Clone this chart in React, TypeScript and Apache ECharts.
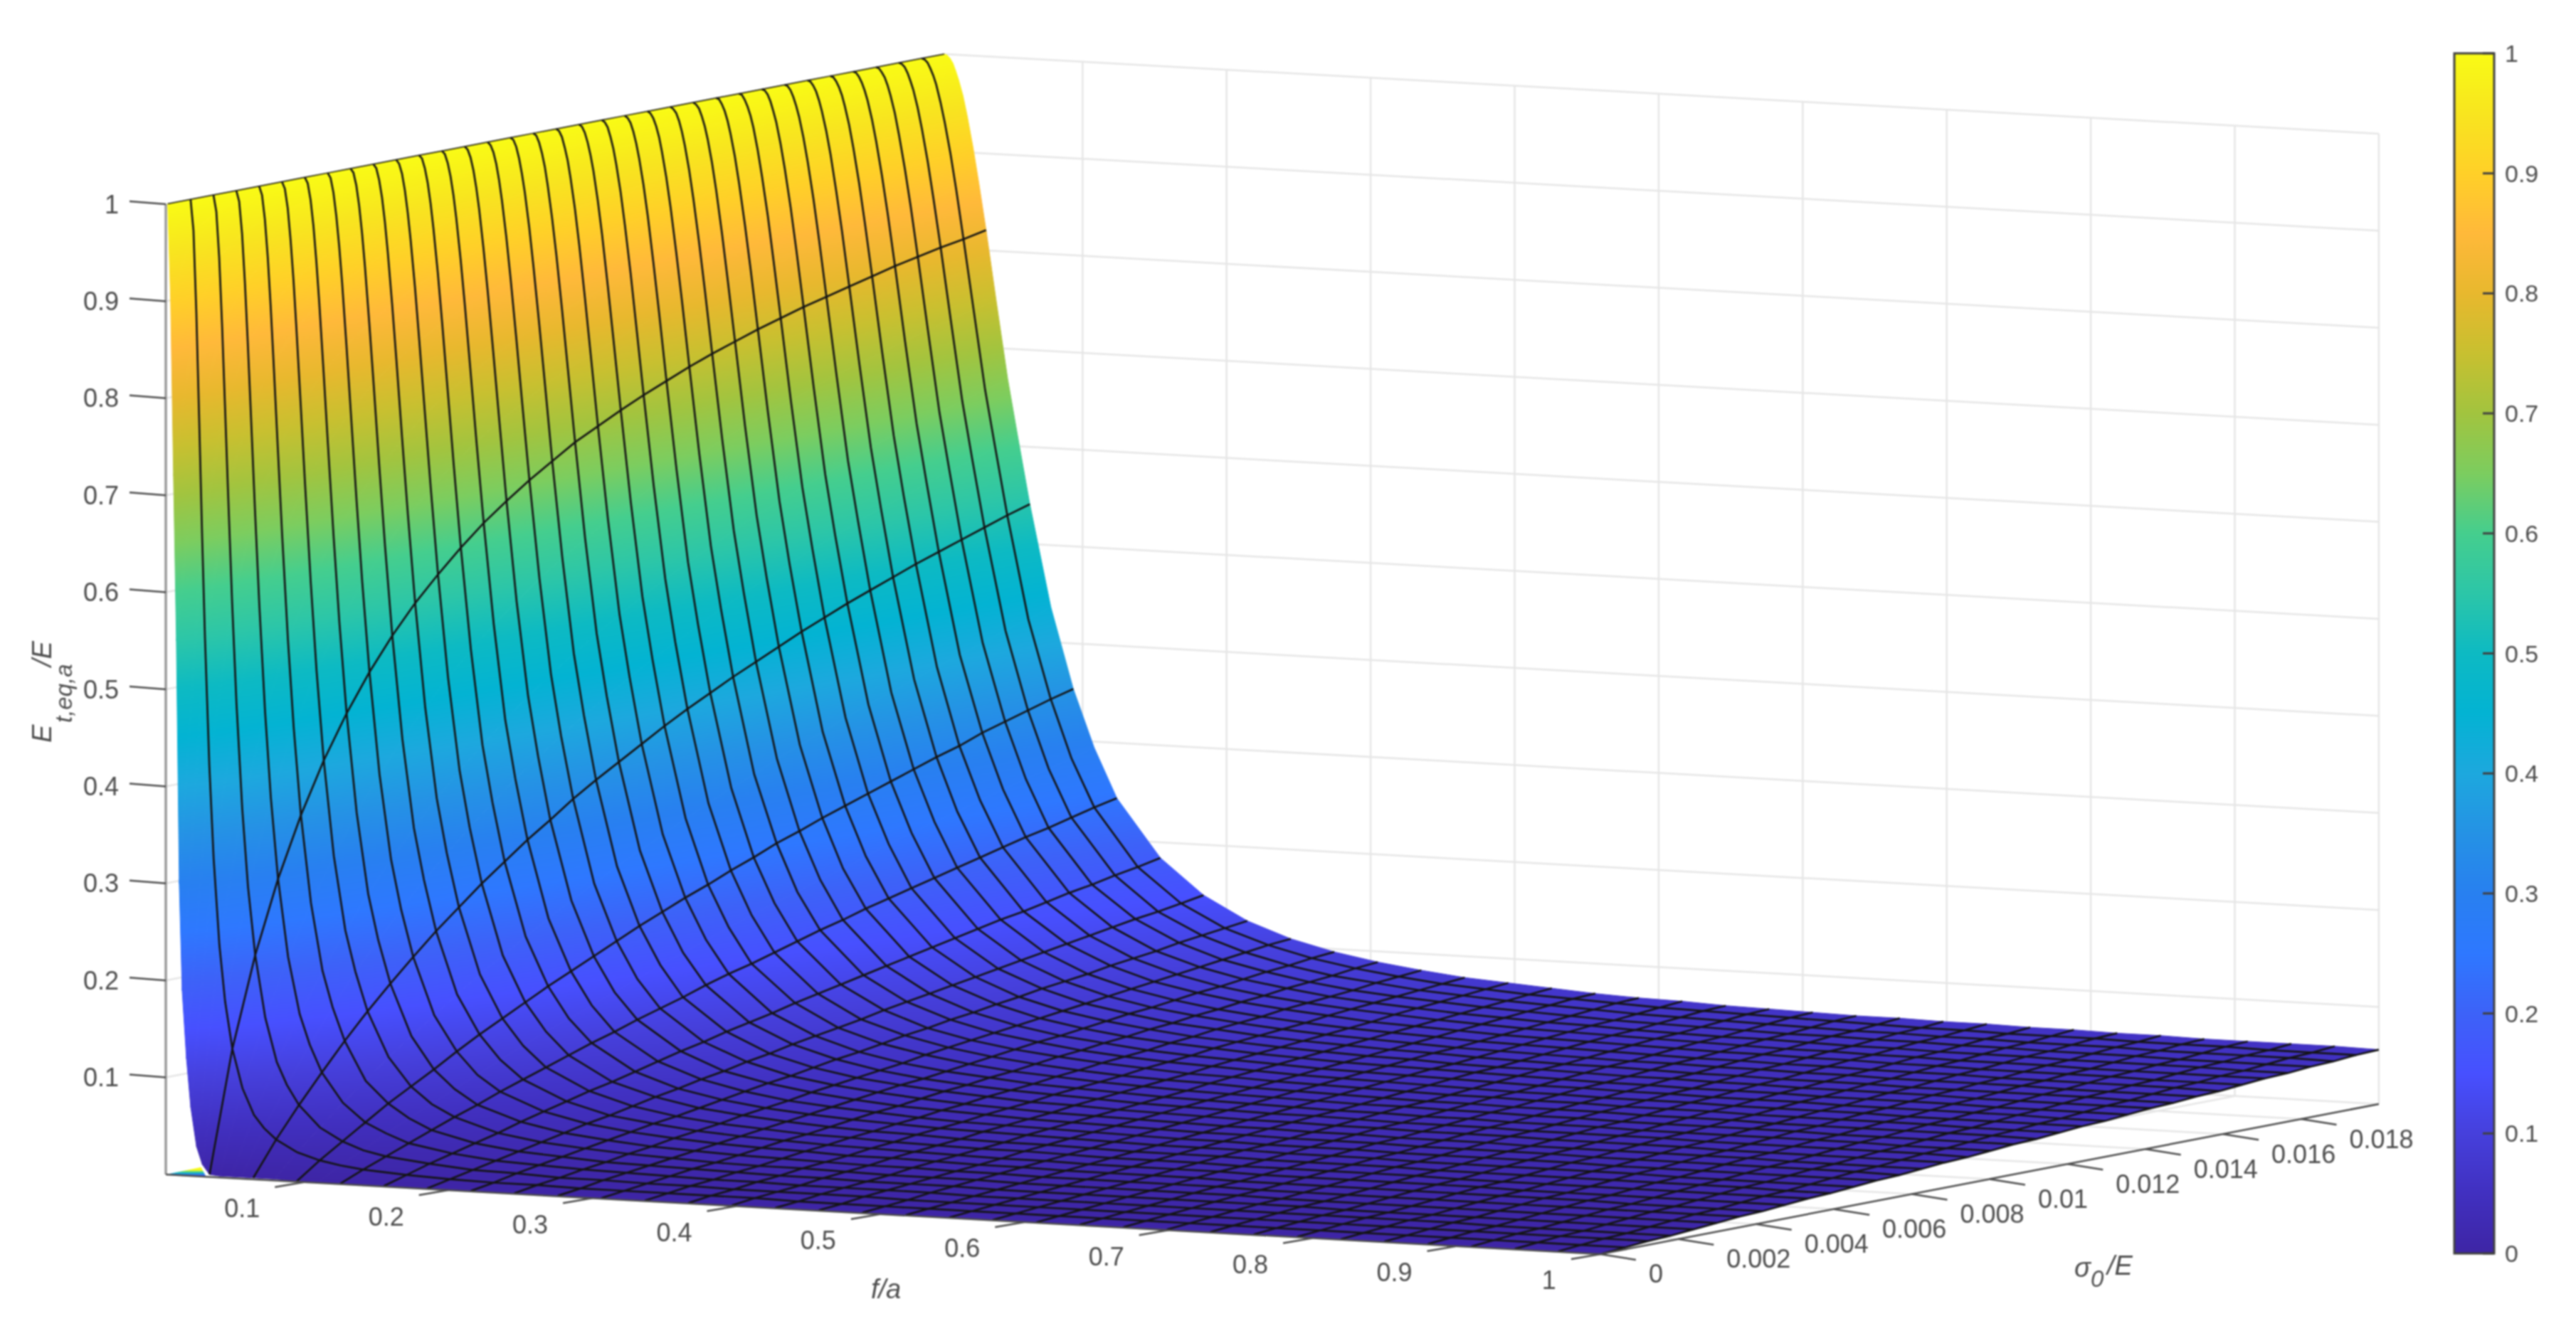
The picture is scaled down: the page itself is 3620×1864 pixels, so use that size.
import * as echarts from "echarts";
import { useEffect, useRef } from "react";

const W = 3620;
const H = 1864;

// f/a at the surface's vertices; the mesh lines use the meshCols entries, the rest only smooth the steep part
const fValues = [0.004,0.006,0.008,0.010,0.012,0.014,0.017,0.020,0.024,0.028,0.033,0.040,0.048,0.055,0.0634,0.078,0.0936,0.108,0.1238,0.154,0.184,0.2144,0.2446,0.2748,0.305,0.3352,0.3654,0.3956,0.4258,0.456,0.4862,0.5164,0.5466,0.5768,0.607,0.6372,0.6674,0.6976,0.7278,0.758,0.7882,0.8184,0.8486,0.8788,0.909,0.9392,0.9694,1.0];
const sigmaValues = [0.00005,0.000637,0.001224,0.001811,0.002398,0.002985,0.003572,0.004159,0.004746,0.005333,0.00592,0.006507,0.007094,0.007681,0.008268,0.008855,0.009442,0.010029,0.010616,0.011203,0.01179,0.012377,0.012964,0.013551,0.014138,0.014725,0.015312,0.015899,0.016486,0.017073,0.01766,0.018247,0.018834,0.019421,0.02];
const meshCols = [0,10,14,16,18,19,20,21,22,23,24,25,26,27,28,29,30,31,32,33,34,35,36,37,38,39,40,41,42,43,44,45,46,47];

// E_t,eq,a/E in thousandths, one row per sigma0/E, one column per f/a.
// Estimated: the first row is read off the left edge, the others come from a curve fitted to edge and mesh readings.
const zTable = [
  [1000,900,720,550,300,190,120,70,30,12,2,1,1,1,1,1,0,0,0,0,0,0,0,0,0,0,0,0,0,0,0,0,0,0,0,0,0,0,0,0,0,0,0,0,0,0,0,0],
  [1000,968,883,771,654,548,418,322,233,175,127,87,60,47,36,24,17,13,10,7,5,4,4,3,3,3,3,3,2,2,2,2,2,2,2,2,2,2,2,2,2,2,2,2,2,2,2,2],
  [1000,983,936,866,784,700,580,477,369,289,219,155,110,87,67,45,32,24,19,14,10,9,7,7,6,6,5,5,5,5,4,4,4,4,4,4,4,4,4,4,4,4,4,4,4,4,4,4],
  [1000,989,956,905,843,775,671,574,464,376,293,213,155,124,96,66,47,37,28,20,15,13,11,10,9,8,8,7,7,7,7,6,6,6,6,6,6,6,6,6,6,6,6,5,5,5,5,5],
  [1000,991,966,927,877,820,730,641,534,444,354,264,195,158,124,84,62,48,37,26,20,17,14,13,12,11,10,10,9,9,9,8,8,8,8,8,8,8,8,7,7,7,7,7,7,7,7,7],
  [1000,993,973,940,899,850,771,690,588,498,406,308,232,190,150,104,75,58,46,32,25,21,18,16,14,13,13,12,11,11,11,10,10,10,10,10,10,9,9,9,9,9,9,9,9,9,9,9],
  [1000,994,977,950,914,872,801,727,631,543,450,348,265,218,174,121,88,69,54,39,30,25,21,19,17,16,15,14,14,13,13,12,12,12,12,12,11,11,11,11,11,11,11,11,11,11,11,11],
  [1000,995,980,956,925,888,824,756,665,580,488,383,296,245,197,138,102,79,63,45,35,29,25,22,20,19,17,17,16,15,15,14,14,14,14,13,13,13,13,13,13,13,13,13,12,12,12,12],
  [1000,996,983,962,934,900,842,780,694,612,521,415,324,271,219,155,115,90,71,51,39,33,28,25,23,21,20,19,18,17,17,16,16,16,16,15,15,15,15,15,15,14,14,14,14,14,14,14],
  [1000,996,984,966,941,910,857,799,718,640,550,443,350,294,239,171,127,100,79,57,44,36,31,28,25,24,22,21,20,20,19,18,18,18,17,17,17,17,17,16,16,16,16,16,16,16,16,16],
  [1000,996,986,969,946,918,870,815,739,663,575,469,374,316,259,186,139,110,87,62,49,40,35,31,28,26,25,23,22,22,21,20,20,20,19,19,19,19,18,18,18,18,18,18,18,18,17,17],
  [1000,997,987,972,951,925,880,829,757,684,598,493,396,337,277,201,151,119,95,68,53,44,38,34,31,29,27,26,25,24,23,22,22,22,21,21,21,20,20,20,20,20,20,19,19,19,19,19],
  [1000,997,988,974,955,931,889,841,772,702,619,515,417,357,295,215,162,128,102,74,58,48,41,37,34,31,29,28,27,26,25,24,24,23,23,23,22,22,22,22,22,21,21,21,21,21,21,21],
  [1000,997,989,976,958,936,896,851,786,719,637,534,437,375,311,229,173,137,110,80,62,52,45,40,36,34,32,30,29,28,27,26,26,25,25,25,24,24,24,24,23,23,23,23,23,23,23,22],
  [1000,997,990,978,961,940,903,860,798,733,654,553,455,392,328,242,184,146,117,85,67,55,48,43,39,36,34,32,31,30,29,28,28,27,27,26,26,26,25,25,25,25,25,25,24,24,24,24],
  [1000,998,991,979,963,944,909,868,809,747,669,570,472,409,343,255,195,156,124,91,71,59,51,46,42,39,36,35,33,32,31,30,30,29,29,28,28,28,27,27,27,27,26,26,26,26,26,26],
  [1000,998,991,980,966,947,914,876,819,759,684,585,488,424,357,267,205,164,132,96,76,63,54,48,44,41,39,37,35,34,33,32,32,31,30,30,30,29,29,29,29,28,28,28,28,28,28,27],
  [1000,998,992,981,968,950,919,882,827,769,696,600,503,439,371,279,215,173,139,101,80,66,57,51,47,43,41,39,37,36,35,34,33,33,32,32,31,31,31,30,30,30,30,30,30,29,29,29],
  [1000,998,992,982,969,953,923,888,835,779,708,613,517,453,385,291,224,181,145,107,84,70,61,54,49,46,43,41,39,38,37,36,35,35,34,34,33,33,32,32,32,32,32,31,31,31,31,31],
  [1000,998,993,983,971,955,927,893,843,788,719,626,531,466,398,302,234,189,152,112,88,74,64,57,52,48,45,43,42,40,39,38,37,36,36,35,35,35,34,34,34,33,33,33,33,33,33,32],
  [1000,998,993,984,972,957,930,898,849,797,729,638,543,479,410,313,243,197,159,117,93,77,67,60,55,51,48,45,44,42,41,40,39,38,38,37,37,36,36,36,35,35,35,35,35,34,34,34],
  [1000,998,993,985,974,959,933,902,855,805,739,649,555,491,422,323,253,204,166,122,97,81,70,63,57,53,50,48,46,44,43,42,41,40,39,39,38,38,38,37,37,37,37,36,36,36,36,36],
  [1000,998,994,986,975,961,936,906,861,812,748,660,567,503,433,334,261,212,172,127,101,84,73,65,60,55,52,50,48,46,45,44,43,42,41,41,40,40,39,39,39,38,38,38,38,38,37,37],
  [1000,998,994,986,976,963,939,910,866,818,756,669,578,514,444,344,270,219,179,132,105,88,76,68,62,58,55,52,50,48,47,46,45,44,43,42,42,41,41,41,40,40,40,40,39,39,39,39],
  [1000,999,994,987,977,964,941,913,871,825,764,679,588,524,455,353,278,227,185,137,109,91,79,71,65,60,57,54,52,50,49,47,46,46,45,44,44,43,43,42,42,42,42,41,41,41,41,41],
  [1000,999,994,987,978,966,943,916,876,830,771,687,598,535,465,363,286,235,191,142,113,95,82,74,67,63,59,56,54,52,51,49,48,47,47,46,45,45,44,44,44,43,43,43,43,43,42,42],
  [1000,999,995,988,978,967,945,919,880,836,778,696,607,544,475,372,294,242,197,147,117,98,85,76,70,65,61,58,56,54,52,51,50,49,48,48,47,47,46,46,45,45,45,45,44,44,44,44],
  [1000,999,995,988,979,968,947,922,884,841,784,704,616,554,484,380,302,249,203,152,121,101,88,79,72,67,63,60,58,56,54,53,52,51,50,49,49,48,48,47,47,47,46,46,46,46,46,45],
  [1000,999,995,989,980,969,949,925,887,846,790,711,625,563,493,389,310,255,209,156,125,105,91,82,75,70,66,62,60,58,56,55,54,53,52,51,51,50,50,49,49,48,48,48,48,47,47,47],
  [1000,999,995,989,981,970,951,927,891,850,796,718,633,571,502,397,317,262,215,161,129,108,94,84,77,72,68,65,62,60,58,57,56,55,54,53,52,52,51,51,50,50,50,49,49,49,49,49],
  [1000,999,995,989,981,971,952,929,894,855,802,725,641,580,510,405,326,269,221,166,133,111,97,87,80,74,70,67,64,62,60,59,57,56,55,55,54,53,53,52,52,52,51,51,51,51,50,50],
  [1000,999,995,990,982,972,954,931,897,859,807,732,648,588,518,413,333,275,226,170,137,115,100,90,82,76,72,69,66,64,62,60,59,58,57,56,56,55,55,54,54,53,53,53,52,52,52,52],
  [1000,999,996,990,982,973,955,933,900,862,812,738,655,595,526,421,340,281,232,175,140,118,103,92,84,79,74,71,68,66,64,62,61,60,59,58,57,57,56,56,55,55,55,54,54,54,54,53],
  [1000,999,996,990,983,974,956,935,903,866,816,744,662,603,534,428,347,287,238,179,144,121,106,95,87,81,76,73,70,68,66,64,63,62,61,60,59,58,58,57,57,57,56,56,56,55,55,55],
  [1000,999,996,991,983,974,958,937,905,869,821,749,669,610,541,436,353,294,243,184,148,124,108,97,89,83,78,75,72,69,67,66,64,63,62,61,61,60,60,59,59,58,58,57,57,57,57,56],
];

// little coloured wedge on the floor, left of the surface
const wedgeF = [0.004, 0.0285, 0.032];
const wedgeZ = [0, 0.0095, 0];

const zTicks = [0.1,0.2,0.3,0.4,0.5,0.6,0.7,0.8,0.9,1];
const fTicks = [0.1,0.2,0.3,0.4,0.5,0.6,0.7,0.8,0.9,1];
const sigmaTicks = [0,0.002,0.004,0.006,0.008,0.01,0.012,0.014,0.016,0.018];
const zLabels = ["0.1","0.2","0.3","0.4","0.5","0.6","0.7","0.8","0.9","1"];
const fLabels = ["0.1","0.2","0.3","0.4","0.5","0.6","0.7","0.8","0.9","1"];
const sigmaLabels = ["0","0.002","0.004","0.006","0.008","0.01","0.012","0.014","0.016","0.018"];
const barTicks = [0,0.1,0.2,0.3,0.4,0.5,0.6,0.7,0.8,0.9,1];

const colorKnots: [number, string][] = [
  [0,"#3e25a5"],[0.05,"#4130c0"],[0.1,"#4640dc"],[0.15,"#4750ff"],[0.2,"#3d62f8"],[0.25,"#2e78ff"],[0.3,"#2880f0"],[0.35,"#2592e5"],[0.4,"#1da8de"],[0.45,"#03b3d3"],[0.5,"#0dbac3"],[0.55,"#2cc6a8"],[0.6,"#45ce8e"],[0.65,"#7ccd5f"],[0.7,"#a2c43f"],[0.75,"#c8c030"],[0.8,"#e8b82e"],[0.85,"#ffb93a"],[0.9,"#ffd028"],[0.95,"#f8e51f"],[1,"#f9fb15"],
];

const F0 = 0.004;
const F1 = 1;
const S1 = 0.02;
// the reference is an orthographic MATLAB view, so the 3D box maps affinely onto the page axes
const project = (f: number, s: number, z: number): number[] => [
  233 + 2024 * (f - F0) + 54700 * s,
  1651 + 112.4 * (f - F0) - 10550 * s - 1364 * z,
];

const hex = (c: string) => [1, 3, 5].map((i) => parseInt(c.slice(i, i + 2), 16));
const colorAt = (z: number) => {
  const v = Math.max(0, Math.min(1, z));
  for (let i = 1; i < colorKnots.length; i++) {
    if (v <= colorKnots[i][0]) {
      const [a, ca] = colorKnots[i - 1];
      const [b, cb] = colorKnots[i];
      const t = (v - a) / (b - a);
      const x = hex(ca);
      const y = hex(cb);
      return `rgb(${x.map((n, j) => Math.round(n + (y[j] - n) * t)).join(",")})`;
    }
  }
  return colorKnots[colorKnots.length - 1][1];
};

// gradient along the direction in which z grows on the quad
const cellFill = (p: number[][], zs: number[]) => {
  const zMin = Math.min(...zs);
  const zMax = Math.max(...zs);
  if (zMax - zMin < 0.003) return colorAt((zMin + zMax) / 2);
  const dx1 = p[2][0] - p[0][0];
  const dy1 = p[2][1] - p[0][1];
  const dz1 = zs[2] - zs[0];
  const dx2 = p[3][0] - p[1][0];
  const dy2 = p[3][1] - p[1][1];
  const dz2 = zs[3] - zs[1];
  const det = dx1 * dy2 - dx2 * dy1;
  let gx = 0;
  let gy = -1 / 1364;
  if (Math.abs(det) > 1) {
    gx = (dz1 * dy2 - dz2 * dy1) / det;
    gy = (dx1 * dz2 - dx2 * dz1) / det;
  }
  const g2 = gx * gx + gy * gy;
  const a = p[zs.indexOf(zMin)];
  const l = (zMax - zMin) / g2;
  const stops = [{ offset: 0, color: colorAt(zMin) }];
  colorKnots.forEach(([k]) => {
    if (k > zMin && k < zMax) stops.push({ offset: (k - zMin) / (zMax - zMin), color: colorAt(k) });
  });
  stops.push({ offset: 1, color: colorAt(zMax) });
  return new echarts.graphic.LinearGradient(a[0], a[1], a[0] + gx * l, a[1] + gy * l, stops, true);
};

const cells: number[][] = [];
for (let r = sigmaValues.length - 2; r >= 0; r--) {
  for (let c = 0; c < fValues.length - 1; c++) cells.push([r, c]);
}

const renderCell = (params: any, api: any) => {
  const [r, c] = cells[params.dataIndex];
  const corners = [[r, c],[r, c + 1],[r + 1, c + 1],[r + 1, c]];
  const zs = corners.map(([i, j]) => zTable[i][j] / 1000);
  const pts = corners.map(([i, j], k) => api.coord(project(fValues[j], sigmaValues[i], zs[k])));
  const fill = cellFill(pts, zs);
  return { type: "polygon", shape: { points: pts }, style: { fill, stroke: fill, lineWidth: 1 } };
};

const meshRows = sigmaValues.map((_, i) => i).filter((i) => i > 0 && i < sigmaValues.length - 1);
const meshLines = [
  ...meshRows.map((r) => ({ kind: "row", i: r })),
  ...meshCols.map((c) => ({ kind: "col", i: c })),
];

const renderMesh = (params: any, api: any) => {
  const m = meshLines[params.dataIndex];
  const pts = m.kind === "row"
    ? fValues.map((f, c) => api.coord(project(f, sigmaValues[m.i], zTable[m.i][c] / 1000)))
    : sigmaValues.map((s, r) => api.coord(project(fValues[m.i], s, zTable[r][m.i] / 1000)));
  return { type: "polyline", shape: { points: pts }, style: { fill: "none", stroke: "#141414", lineWidth: m.kind === "col" && m.i === 0 ? 1.5 : 2.7 } };
};

const gridSegments: number[][][] = [];
zTicks.forEach((z) => {
  gridSegments.push([[F0, S1, z],[F1, S1, z]]);
  gridSegments.push([[F0, 0, z],[F0, S1, z]]);
});
fTicks.forEach((f) => {
  gridSegments.push([[f, S1, 0],[f, S1, 1]]);
  gridSegments.push([[f, 0, 0],[f, S1, 0]]);
});
sigmaTicks.concat([0.02]).forEach((s) => {
  gridSegments.push([[F0, s, 0],[F0, s, 1]]);
  gridSegments.push([[F0, s, 0],[F1, s, 0]]);
});

const renderGrid = (params: any, api: any) => {
  const [a, b] = gridSegments[params.dataIndex];
  const p = api.coord(project(a[0], a[1], a[2]));
  const q = api.coord(project(b[0], b[1], b[2]));
  return { type: "line", shape: { x1: p[0], y1: p[1], x2: q[0], y2: q[1] }, style: { stroke: "#e6e6e6", lineWidth: 2.5 } };
};

const renderWedge = (params: any, api: any) => {
  const pts = wedgeF.map((f, i) => api.coord(project(f, 0, wedgeZ[i])));
  const top = pts[1][1];
  const bottom = pts[0][1] + 1;
  const fill = new echarts.graphic.LinearGradient(0, bottom, 0, top, [
    { offset: 0, color: "#3d62f8" },
    { offset: 0.3, color: "#0dbac3" },
    { offset: 0.65, color: "#f9fb15" },
    { offset: 1, color: "#f9fb15" },
  ], true);
  return { type: "polygon", shape: { points: pts }, style: { fill } };
};

const AXIS_FONT = '36px "Liberation Sans"';
const tickText = (text: string, x: number, y: number, align: string) => ({
  type: "text",
  style: { text, x, y, font: AXIS_FONT, fill: "#4d4d4d", align, verticalAlign: "middle", textAlign: align, textVerticalAlign: "middle" },
});
const tickLine = (x1: number, y1: number, x2: number, y2: number) => ({
  type: "line",
  shape: { x1, y1, x2, y2 },
  style: { stroke: "#4d4d4d", lineWidth: 2.5 },
});

const renderAxes = (params: any, api: any) => {
  const children: any[] = [];
  const p00 = api.coord(project(F0, 0, 0));
  const pTop = api.coord(project(F0, 0, 1));
  const p10 = api.coord(project(F1, 0, 0));
  const p11 = api.coord(project(F1, S1, 0));
  children.push({ type: "line", shape: { x1: p00[0], y1: p00[1], x2: pTop[0], y2: pTop[1] }, style: { stroke: "#9a9a9a", lineWidth: 3.5 } });
  children.push(tickLine(p00[0], p00[1], p10[0], p10[1]));
  children.push(tickLine(p10[0], p10[1], p11[0], p11[1]));
  zTicks.forEach((z, i) => {
    const p = api.coord(project(F0, 0, z));
    children.push(tickLine(p[0], p[1], p[0] - 51, p[1] - 4));
    children.push(tickText(zLabels[i], p[0] - 66, p[1], "right"));
  });
  fTicks.forEach((f, i) => {
    const p = api.coord(project(f, 0, 0));
    children.push(tickLine(p[0], p[1], p[0] - 41, p[1] + 7));
    children.push(tickText(fLabels[i], p[0] - 62, p[1] + 37, "right"));
  });
  sigmaTicks.forEach((s, i) => {
    const p = api.coord(project(F1, s, 0));
    children.push(tickLine(p[0], p[1], p[0] + 50, p[1] + 8));
    children.push(tickText(sigmaLabels[i], p[0] + 68, p[1] + 28, "left"));
  });
  return { type: "group", children };
};

const italic = (text: string, x: number, y: number, size: number) => ({
  type: "text",
  style: { text, x, y, font: `italic ${size}px "Liberation Sans"`, fill: "#4d4d4d", align: "left", verticalAlign: "middle", textAlign: "left", textVerticalAlign: "middle" },
});

const renderColorBar = (params: any, api: any) => {
  const a = api.coord([0, 0]);
  const b = api.coord([1, 1]);
  const stops = colorKnots.map(([k, color]) => ({ offset: k, color }));
  const children: any[] = [{
    type: "rect",
    shape: { x: a[0], y: b[1], width: b[0] - a[0], height: a[1] - b[1] },
    style: { fill: new echarts.graphic.LinearGradient(0, 1, 0, 0, stops), stroke: "#404040", lineWidth: 3 },
  }];
  barTicks.forEach((v) => {
    const p = api.coord([1, v]);
    children.push({ type: "line", shape: { x1: p[0] - 16, y1: p[1], x2: p[0], y2: p[1] }, style: { stroke: "#404040", lineWidth: 3 } });
  });
  return { type: "group", children };
};

export default function App() {
  const ref = useRef<HTMLDivElement>(null);

  useEffect(() => {
    if (!ref.current) return;
    document.body.style.margin = "0";
    const chart = echarts.init(ref.current, undefined, { renderer: "svg" });
    chart.setOption({
      animation: false,
      backgroundColor: "#fff",
      grid: [
        { left: 0, top: 0, width: W, height: H },
        { left: 3449, top: 75, width: 56, height: 1687 },
      ],
      xAxis: [
        { type: "value", min: 0, max: W, show: false, gridIndex: 0 },
        { type: "value", min: 0, max: 1, show: false, gridIndex: 1 },
      ],
      yAxis: [
        { type: "value", min: 0, max: H, inverse: true, show: false, gridIndex: 0 },
        {
          type: "value", min: 0, max: 1, interval: 0.1, gridIndex: 1, position: "right",
          axisLine: { show: false },
          splitLine: { show: false },
          axisTick: { show: false },
          axisLabel: { margin: 15, color: "#4d4d4d", fontSize: 34, fontFamily: "Liberation Sans" },
        },
      ],
      series: [
        { type: "custom", coordinateSystem: "cartesian2d", silent: true, clip: false, z: 1, data: gridSegments.map((_, i) => [i, i]), renderItem: renderGrid },
        { type: "custom", coordinateSystem: "cartesian2d", silent: true, clip: false, z: 2, data: [[0, 0]], renderItem: renderWedge },
        { type: "custom", coordinateSystem: "cartesian2d", silent: true, clip: false, z: 3, data: cells.map((_, i) => [i, i]), renderItem: renderCell },
        { type: "custom", coordinateSystem: "cartesian2d", silent: true, clip: false, z: 4, data: meshLines.map((_, i) => [i, i]), renderItem: renderMesh },
        { type: "custom", coordinateSystem: "cartesian2d", silent: true, clip: false, z: 5, data: [[0, 0]], renderItem: renderAxes },
        { type: "custom", coordinateSystem: "cartesian2d", xAxisIndex: 1, yAxisIndex: 1, silent: true, clip: false, z: 1, data: [[0, 0]], renderItem: renderColorBar },
      ],
      graphic: [
        { type: "group", x: 59, y: 1044, rotation: Math.PI / 2, children: [italic("E", 0, 0, 38), italic("t,eq,a", 28, 30, 33), italic("/E", 107, 0, 38)] },
        { type: "group", x: 0, y: 0, children: [italic("f/a", 1224, 1812, 38), italic("σ", 2915, 1782, 38), italic("0", 2938, 1797, 33), italic("/E", 2961, 1779, 38)] },
      ],
    });
    return () => chart.dispose();
  }, []);

  return <div ref={ref} style={{ width: W, height: H, filter: "blur(1.2px)" }} />;
}
